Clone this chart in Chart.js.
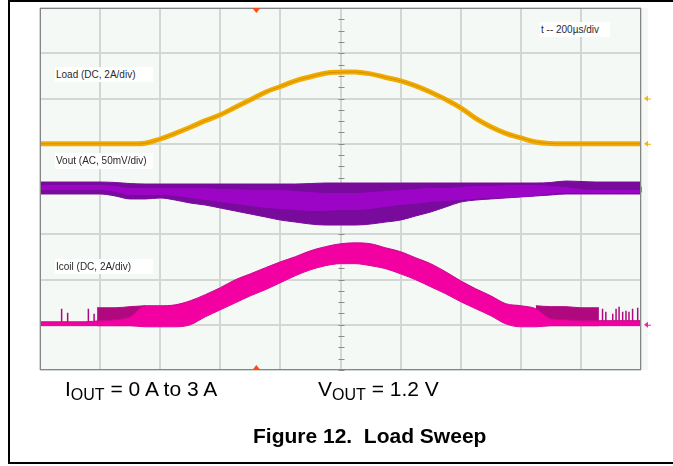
<!DOCTYPE html>
<html>
<head>
<meta charset="utf-8">
<script src="https://cdn.jsdelivr.net/npm/chart.js@4/dist/chart.umd.min.js"></script>
<style>
  html, body { margin: 0; padding: 0; background: #fff; }
  #wrap { position: relative; width: 673px; height: 466px; overflow: hidden;
          font-family: "Liberation Sans", Arial, Helvetica, sans-serif; }
  #frame { position: absolute; left: 8px; top: 0; width: 700px; height: 464px; box-sizing: border-box;
           border-top: 2px solid #000; border-left: 2px solid #000; border-bottom: 2px solid #000; }
  #scope { position: absolute; left: 0; top: 0; }
  .tag { position: absolute; background: #fff; color: #2a2a2a; font-size: 10px; line-height: 15px;
         padding-left: 1px; box-sizing: border-box; white-space: nowrap; }
  .cap { position: absolute; top: 378px; font-size: 21px; line-height: 21px; color: #000; white-space: nowrap; }
  .cap sub { font-size: 16px; line-height: 0; vertical-align: -4px; }
  #title { position: absolute; left: 253px; top: 425px; font-size: 21px; line-height: 21px;
           font-weight: bold; color: #000; white-space: nowrap; }
</style>
</head>
<body>
<div id="wrap">
  <div id="frame"></div>
  <canvas id="scope" width="673" height="466"></canvas>
  <div class="tag" style="left:55px; top:67px; width:98px;">Load (DC, 2A/div)</div>
  <div class="tag" style="left:55px; top:153px; width:98px; height:16px;">Vout (AC, 50mV/div)</div>
  <div class="tag" style="left:55px; top:259px; width:98px;">Icoil (DC, 2A/div)</div>
  <div class="tag" style="left:540px; top:22px; width:70px;">t -- 200µs/div</div>
  <div class="cap" style="left:65px;">I<sub>OUT</sub> = 0 A to 3 A</div>
  <div class="cap" style="left:318px;">V<sub>OUT</sub> = 1.2 V</div>
  <div id="title">Figure 12.&nbsp; Load Sweep</div>
</div>
<script>
// ── time base: 200 µs/div, 10 div ──────────────────────
const timeUs = [0, 50, 100, 150, 200, 250, 300, 350, 400, 450, 500, 550, 600, 650, 700, 750, 800, 850, 900, 950,
                1000, 1050, 1100, 1150, 1200, 1250, 1300, 1350, 1400, 1450, 1500, 1550, 1600, 1650, 1700, 1750,
                1800, 1850, 1900, 1950, 2000];

// ── Load current (A), DC 2A/div ───────────────────────
const loadA = [0, 0, 0, 0, 0, 0, 0, 0.02, 0.21, 0.46, 0.73, 1.02, 1.28, 1.61, 1.94, 2.28, 2.53, 2.78, 2.96, 3.12,
               3.16, 3.17, 3.09, 2.93, 2.78, 2.56, 2.28, 1.96, 1.59, 1.12, 0.75, 0.46, 0.26, 0.08, 0.01, 0, 0, 0, 0, 0, 0];

// ── Vout ripple envelope (mV), AC 50mV/div ────────────
const voutTop = [7.7, 7.7, 7.7, 7.7, 7.7, 7.2, 6.0, 5.5, 5.5, 5.5, 5.5, 5.5, 5.5, 5.5, 5.5, 5.5, 5.5, 5.5, 6.0, 6.6,
                 6.6, 6.6, 6.6, 6.6, 6.6, 6.6, 6.6, 6.6, 6.6, 6.6, 6.6, 6.6, 6.6, 6.6, 7.2, 8.8, 8.3, 7.7, 7.7, 7.7, 7.7];
const voutBot = [-5.5, -5.5, -5.5, -5.5, -5.5, -7.7, -11, -11, -9.9, -12.2, -15.5, -17.7, -21, -24.3, -27.6, -30.9,
                 -34.3, -36.5, -38.7, -39.8, -39.8, -39.8, -38.7, -36.5, -34.3, -29.8, -25.4, -19.9, -14.4, -12.2,
                 -11, -9.9, -8.8, -7.7, -6.6, -5.5, -5.5, -5.5, -5.5, -5.5, -5.5];
const voutCoreTop = [4.4, 4.4, 4.4, 4.4, 4.4, 3.3, 1.1, 1.1, 1.1, 1.1, 1.1, 1.1, 0, 0, -1.1, -1.1, -1.1, -2.2, -3.3,
                     -4.4, -4.4, -4.4, -3.3, -2.2, -1.1, 0, 1.1, 1.1, 2.2, 3.3, 3.3, 4.4, 4.4, 4.4, 3.3, 2.2, 0,
                     -1.1, -1.1, -1.1, -1.1];
const voutCoreBot = [-1.1, -1.1, -1.1, -1.1, -1.1, -3.3, -6.6, -6.6, -6.6, -7.7, -9.9, -12.2, -14.4, -16.6, -18.8,
                     -21, -22.1, -23.2, -24.3, -24.3, -23.2, -23.2, -22.1, -19.9, -17.7, -16.6, -14.4, -13.3, -12.2,
                     -11, -9.9, -9.9, -8.8, -7.7, -5.5, -4.4, -4.4, -4.4, -4.4, -4.4, -4.4];

// ── Coil current envelope (A), DC 2A/div ──────────────
const icoilTop = [0.13, 0.13, 0.13, 0.13, 0.18, 0.22, 0.35, 0.84, 0.84, 0.88, 1.06, 1.33, 1.64, 1.99, 2.25, 2.52,
                  2.78, 3.01, 3.27, 3.45, 3.58, 3.62, 3.58, 3.40, 3.23, 2.96, 2.70, 2.34, 1.94, 1.59, 1.28, 0.93,
                  0.84, 0.71, 0.27, 0.22, 0.18, 0.18, 0.18, 0.18, 0.18];
const icoilBot = [-0.04, -0.04, -0.04, -0.04, -0.04, -0.04, -0.04, -0.09, -0.09, -0.09, 0, 0.35, 0.66, 0.97, 1.28,
                  1.55, 1.86, 2.17, 2.43, 2.61, 2.70, 2.70, 2.61, 2.48, 2.25, 1.99, 1.68, 1.37, 1.02, 0.71, 0.40,
                  0.04, -0.09, -0.09, -0.04, -0.04, -0.04, -0.04, -0.04, -0.04, -0.04];

// pulse-skipping zones (light load) and isolated spikes
const icoilBase = -0.04;
const skipLeftT = [190, 250, 300, 350];
const skipLeftTop = [0.75, 0.75, 0.80, 0.84];
const skipRightT = [1650, 1700, 1750, 1800, 1860];
const skipRightTop = [0.84, 0.80, 0.80, 0.75, 0.75];
const spikeT = [72, 92, 161, 180, 1872, 1883, 1906, 1917, 1927, 1939, 1950, 1960, 1972, 1989];
const spikeTop = [0.71, 0.53, 0.71, 0.49, 0.71, 0.57, 0.49, 0.71, 0.80, 0.57, 0.62, 0.57, 0.71, 0.75];

// reference markers
const loadRefA = [0, 2];
const icoilRefA = [0];
const triggerUs = 720;

// ── helpers ───────────────────────────────────────────
const pts = (ys, ts = timeUs) => ts.map((t, i) => ({ x: t, y: ys[i] }));
const flat = (ts, v) => ts.map(t => ({ x: t, y: v }));
const spikes = spikeT.flatMap((t, i) => [{ x: t, y: icoilBase }, { x: t, y: spikeTop[i] }, { x: t, y: null }]);

const C = {
  load: '#f3ab00', loadCore: 'rgba(170,112,0,0.45)',
  vDark: '#780a9c', vBright: '#9c04c6',
  iBright: '#f300a2', iDark: '#b0087f',
  screen: '#f4f9f6', frame: '#858585', trig: '#ff4a12',
};

const band = (data, axis, color, extra = {}) => ({
  type: 'line', data, yAxisID: axis, borderColor: color, backgroundColor: color,
  borderWidth: 1, pointRadius: 0, cubicInterpolationMode: 'monotone', ...extra,
});

// ── scope decoration: screen, centre ticks, frame, markers ──
const scopeDecor = {
  id: 'scopeDecor',
  beforeDraw(chart) {
    const { ctx, chartArea: a } = chart;
    ctx.save();
    ctx.fillStyle = C.screen;
    ctx.fillRect(a.left, a.top, a.right - a.left + 7, a.bottom - a.top);
    ctx.restore();
  },
  beforeDatasetsDraw(chart) {
    const { ctx, scales } = chart;
    const x = scales.x, y = scales.yg;
    const cx = Math.round(x.getPixelForValue((x.min + x.max) / 2)) + 0.5;
    const cy = Math.round(y.getPixelForValue((y.min + y.max) / 2)) + 0.5;
    ctx.save();
    ctx.strokeStyle = '#8a8a8a';
    ctx.lineWidth = 1;
    ctx.beginPath();
    for (let v = y.min; v <= y.max; v += 0.25) {
      const py = Math.round(y.getPixelForValue(v)) + 0.5;
      ctx.moveTo(cx - 3, py); ctx.lineTo(cx + 3, py);
    }
    for (let t = x.min; t <= x.max; t += 40) {
      const px = Math.round(x.getPixelForValue(t)) + 0.5;
      ctx.moveTo(px, cy - 3); ctx.lineTo(px, cy + 3);
    }
    ctx.stroke();
    ctx.restore();
  },
  afterDatasetsDraw(chart) {
    const { ctx, chartArea: a, scales } = chart;
    ctx.save();
    ctx.strokeStyle = C.frame;
    ctx.lineWidth = 1;
    ctx.strokeRect(a.left + 0.5, a.top + 0.5, a.right - a.left - 1, a.bottom - a.top - 1);

    const mark = (py, color) => {
      const px = a.right + 3;
      ctx.fillStyle = color; ctx.strokeStyle = color;
      ctx.beginPath(); ctx.moveTo(px, py); ctx.lineTo(px + 4, py - 3); ctx.lineTo(px + 4, py + 3); ctx.closePath(); ctx.fill();
      ctx.beginPath(); ctx.moveTo(px + 4, py + 0.5); ctx.lineTo(px + 7, py + 0.5); ctx.stroke();
    };
    loadRefA.forEach(v => mark(scales.yLoad.getPixelForValue(v), '#f5b21a'));
    icoilRefA.forEach(v => mark(scales.yIcoil.getPixelForValue(v), '#f0249e'));

    const tx = scales.x.getPixelForValue(triggerUs);
    ctx.fillStyle = C.trig;
    ctx.beginPath(); ctx.moveTo(tx - 4, a.top); ctx.lineTo(tx + 4, a.top); ctx.lineTo(tx, a.top + 5); ctx.closePath(); ctx.fill();
    ctx.beginPath(); ctx.moveTo(tx - 4, a.bottom); ctx.lineTo(tx + 4, a.bottom); ctx.lineTo(tx, a.bottom - 5); ctx.closePath(); ctx.fill();
    ctx.restore();
  },
};

const hidden = (min, max) => ({ type: 'linear', display: false, min, max });
const gridAxis = (axis, min, max, step, dotted) => ({
  type: 'linear', axis, min, max, z: dotted ? 0 : -1,
  position: axis === 'x' ? 'bottom' : 'left',
  ticks: { display: false, stepSize: step },
  grid: { color: dotted ? '#8e8e8e' : '#d3d7d4', drawTicks: false, lineWidth: dotted ? 1 : 2 },
  border: { display: false, dash: dotted ? [1, 2] : [] },
});

new Chart(document.getElementById('scope'), {
  type: 'line',
  data: {
    datasets: [
      { data: pts(loadA), yAxisID: 'yLoad', borderColor: C.loadCore, borderWidth: 1, pointRadius: 0, tension: 0.4, order: 0 },
      { data: pts(loadA), yAxisID: 'yLoad', borderColor: C.load, borderWidth: 5, pointRadius: 0, tension: 0.4, order: 1 },

      band(pts(voutCoreTop), 'yVout', C.vBright, { fill: '+1', borderWidth: 0, order: 5 }),
      band(pts(voutCoreBot), 'yVout', C.vBright, { borderWidth: 0, order: 5 }),
      band(pts(voutTop), 'yVout', C.vDark, { fill: '+1', order: 6 }),
      band(pts(voutBot), 'yVout', C.vDark, { order: 6 }),

      band(pts(icoilTop), 'yIcoil', C.iBright, { fill: '+1', borderColor: '#c60a8c', order: 10 }),
      band(pts(icoilBot), 'yIcoil', C.iBright, { borderColor: '#c60a8c', order: 10 }),
      { data: spikes, yAxisID: 'yIcoil', borderColor: C.iDark, borderWidth: 1.5, pointRadius: 0, spanGaps: false, order: 11 },
      band(pts(skipLeftTop, skipLeftT), 'yIcoil', C.iDark, { fill: '+1', order: 12 }),
      band(flat(skipLeftT, icoilBase), 'yIcoil', C.iDark, { order: 12 }),
      band(pts(skipRightTop, skipRightT), 'yIcoil', C.iDark, { fill: '+1', order: 12 }),
      band(flat(skipRightT, icoilBase), 'yIcoil', C.iDark, { order: 12 }),
    ],
  },
  options: {
    responsive: false,
    animation: false,
    devicePixelRatio: 1,
    layout: { padding: { left: 40, top: 8, right: 32, bottom: 96 } },
    plugins: { legend: { display: false }, tooltip: { enabled: false } },
    scales: {
      x: gridAxis('x', 0, 2000, 200, true),
      xs: gridAxis('x', 0, 2000, 200, false),
      yg: gridAxis('y', 0, 8, 1, true),
      ygs: gridAxis('y', 0, 8, 1, false),
      yLoad: hidden(-10, 6),
      yVout: hidden(-200, 200),
      yIcoil: hidden(-2, 14),
    },
  },
  plugins: [scopeDecor],
});
</script>
</body>
</html>
